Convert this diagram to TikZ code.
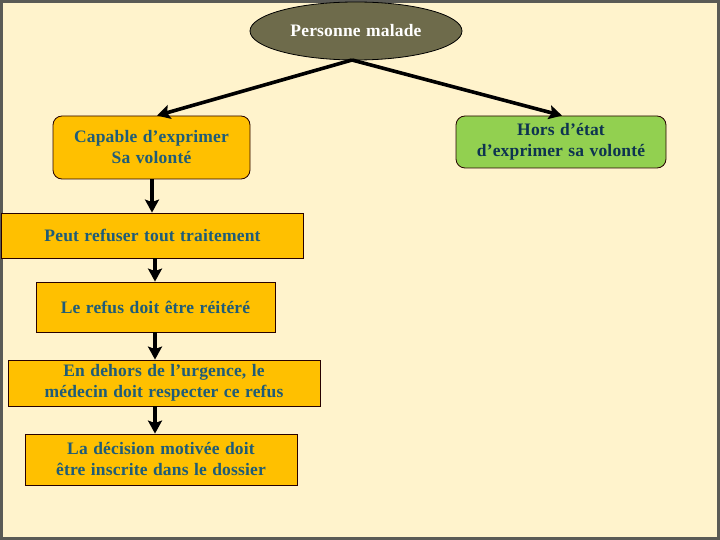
\documentclass[tikz,border=0pt]{standalone}
\usepackage{fontspec}
\setmainfont{Liberation Serif}
\usetikzlibrary{shapes.geometric,arrows.meta}
\definecolor{bgyel}{HTML}{FFF3CC}
\definecolor{frame}{HTML}{5A5A55}
\definecolor{olive}{HTML}{6E6B4B}
\definecolor{gold}{HTML}{FFC000}
\definecolor{lgreen}{HTML}{92D050}
\definecolor{tealtxt}{HTML}{1F5C78}
\definecolor{navytxt}{HTML}{0E3350}
\newfontfamily\boxfont[LetterSpace=1,WordSpace=1.2]{Liberation Serif}
\tikzset{
  box/.style={draw=black!85!red, line width=0.8pt, fill=gold, text=tealtxt, font=\boxfont\bfseries\fontsize{17.5}{21}\selectfont, align=center, inner sep=0pt},
  rbox/.style={box, rounded corners=9pt},
  arr/.style={line width=3.6pt, -{Stealth[length=13pt,width=14pt,inset=2.5pt]}},
}
\begin{document}
\begin{tikzpicture}[x=1pt,y=-1pt]
\fill[frame] (0,0) rectangle (720,540);
\fill[bgyel] (3,3) rectangle (717,537);
\useasboundingbox (0,0) rectangle (720,540);

\node[ellipse, draw=black, line width=0.8pt, fill=olive, text=white, minimum width=212pt, minimum height=58pt, inner sep=0pt, font=\boxfont\bfseries\fontsize{17.5}{21}\selectfont] (pm) at (356,31) {Personne malade};

\node[rbox, minimum width=197pt, minimum height=63pt] (cap) at (151.5,147.5) {Capable d’exprimer\\Sa volonté};
\node[rbox, fill=lgreen, text=navytxt, minimum width=210pt, minimum height=52pt] (hors) at (561,142) {Hors d’état\\d’exprimer sa volonté};

\node[box, minimum width=302pt, minimum height=45pt] (peut) at (152.5,235.5) {Peut refuser tout traitement};
\node[box, minimum width=239pt, minimum height=50pt] (refus) at (155.5,307) {Le refus doit être réitéré};
\node[box, minimum width=312pt, minimum height=46pt] (dehors) at (164,383) {En dehors de l’urgence, le\\médecin doit respecter ce refus};
\node[box, minimum width=272pt, minimum height=51pt] (dec) at (161,459.5) {La décision motivée doit\\être inscrite dans le dossier};

\coordinate (pmb) at (352,60);
\draw[arr] (pmb) -- (cap.north -| 157,0);
\draw[arr] (pmb) -- (hors.north -| 562,0);
\draw[arr] (cap.south -| 152,0) -- (peut.north -| 152,0);
\draw[arr] (peut.south -| 155,0) -- (refus.north -| 155,0);
\draw[arr] (refus.south -| 155,0) -- (dehors.north -| 155,0);
\draw[arr] (dehors.south -| 155,0) -- (dec.north -| 155,0);
\end{tikzpicture}
\end{document}
